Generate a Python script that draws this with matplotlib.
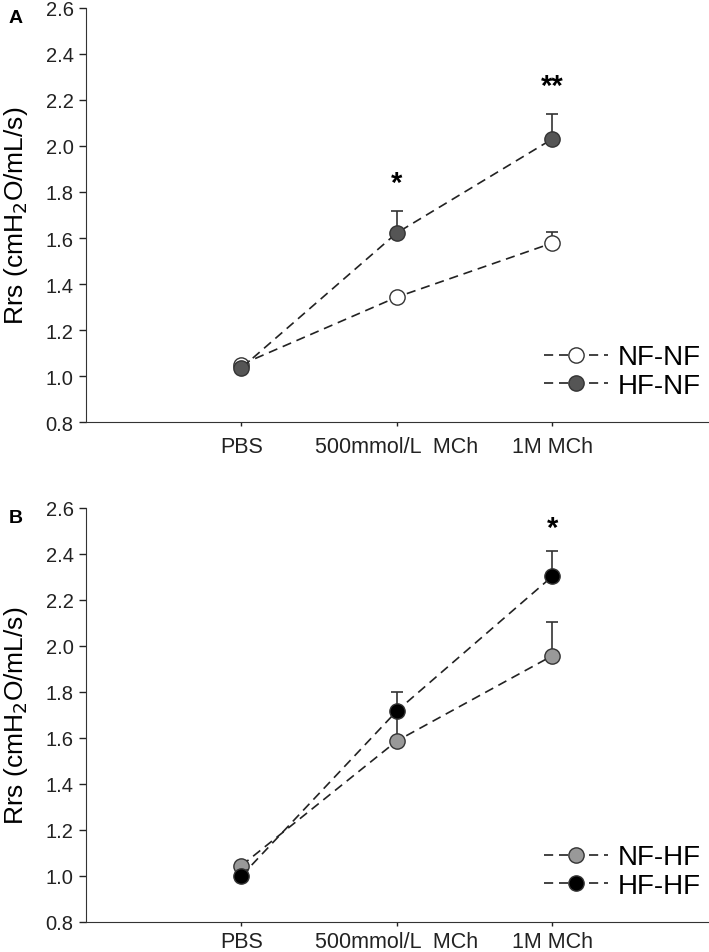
import matplotlib
matplotlib.use("Agg")
from matplotlib import pyplot as plt

plt.rcParams['font.family'] = ['Liberation Sans', 'DejaVu Sans']

conditions = ["PBS", "500mmol/L  MCh", "1M MCh"]
x_pos = [1, 2, 3]

# panel A
nfnf_mean = [1.05, 1.343, 1.578]
nfnf_err = [0.01, 0.02, 0.047]
hfnf_mean = [1.035, 1.622, 2.03]
hfnf_err = [0.01, 0.097, 0.11]
stars_a = ["", "*", "**"]
stars_a_y = [None, 1.78, 2.20]

# panel B
nfhf_mean = [1.045, 1.587, 1.957]
nfhf_err = [0.01, 0.115, 0.147]
hfhf_mean = [1.0, 1.717, 2.302]
hfhf_err = [0.01, 0.083, 0.111]
stars_b = ["", "", "*"]
stars_b_y = [None, None, 2.45]

yticks = [0.8, 1.0, 1.2, 1.4, 1.6, 1.8, 2.0, 2.2, 2.4, 2.6]

fig = plt.figure(figsize=(7.09, 9.53), dpi=100)
ax_a = fig.add_axes([0.1213, 0.5561, 0.8767, 0.4345])
ax_b = fig.add_axes([0.1213, 0.0315, 0.8767, 0.4345])


def draw_panel(ax, series, stars, stars_y, letter, xpad):
    for mean, err, color, label in series:
        ax.errorbar(x_pos, mean, yerr=[[0] * len(err), err], fmt='none',
                    ecolor='#333333', elinewidth=1.2, capsize=4.5, capthick=1.2, zorder=2)
        ax.plot(x_pos, mean, linestyle=(0, (5.5, 3.5)), color='#222222', linewidth=1.2,
                marker='o', markersize=11, markerfacecolor=color,
                markeredgecolor='#333333', markeredgewidth=1.0, label=label, zorder=3)
    for x, s, y in zip(x_pos, stars, stars_y):
        if s:
            ax.text(x, y, s, ha='center', va='bottom', fontsize=21, fontweight='bold')
    ax.set_xlim(0, 4)
    ax.set_ylim(0.8, 2.6)
    ax.set_yticks(yticks)
    ax.set_yticklabels([f"{t:.1f}" for t in yticks])
    ax.set_xticks(x_pos)
    ax.set_xticklabels(conditions)
    ax.spines['top'].set_visible(False)
    ax.spines['right'].set_visible(False)
    ax.spines['left'].set_color('#333333')
    ax.spines['bottom'].set_color('#333333')
    ax.tick_params(axis='y', length=5, width=1, labelsize=14.5, pad=4, colors='#222222')
    ax.tick_params(axis='x', length=3, width=1, labelsize=15.5, pad=xpad, colors='#222222')
    ax.set_ylabel("Rrs (cmH$_2$O/mL/s)", fontsize=19)
    ax.yaxis.set_label_coords(-0.09, 0.5)
    ax.legend(loc='lower right', bbox_to_anchor=(1.016, 0.015), frameon=False,
              fontsize=20, handlelength=2.3, handletextpad=0.35, labelspacing=0.1,
              borderaxespad=0.2)
    ax.text(-0.125, 0.978, letter, transform=ax.transAxes, fontsize=14,
            fontweight='bold', ha='left', va='center')


draw_panel(ax_a, [(nfnf_mean, nfnf_err, 'white', 'NF-NF'),
                  (hfnf_mean, hfnf_err, '#555555', 'HF-NF')],
           stars_a, stars_a_y, 'A', 7)
draw_panel(ax_b, [(nfhf_mean, nfhf_err, '#999999', 'NF-HF'),
                  (hfhf_mean, hfhf_err, 'black', 'HF-HF')],
           stars_b, stars_b_y, 'B', 3.5)

fig.savefig("out.png", dpi=100)
